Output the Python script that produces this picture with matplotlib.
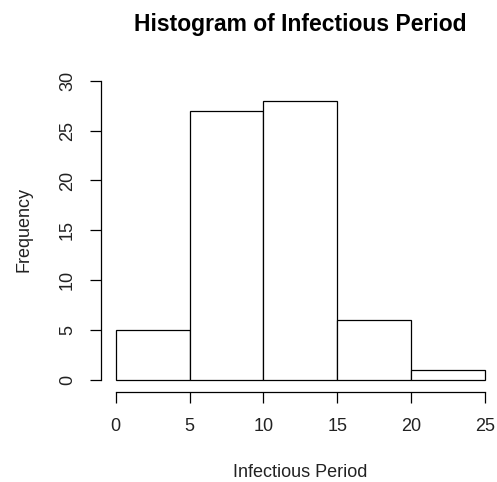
import matplotlib.pyplot as plt
import numpy as np

plt.rcParams['font.family'] = ['Liberation Sans', 'DejaVu Sans']

bin_edges = [0, 5, 10, 15, 20, 25]
counts = [5, 27, 28, 6, 1]
x_ticks = [0, 5, 10, 15, 20, 25]
y_ticks = [0, 5, 10, 15, 20, 25, 30]

W, H = 497, 482
fig = plt.figure(figsize=(W / 100, H / 100), dpi=100)
# axes box in pixels: x 115.7..485, y 80.7..380
ax = fig.add_axes([115.7 / W, 1 - 380 / H, (485 - 115.7) / W, (380 - 80.7) / H])

edges = np.array(bin_edges)
bars = ax.bar(edges[:-1], counts, width=np.diff(edges), align='edge',
              facecolor='white', edgecolor='black', linewidth=0.9)
for b in bars:
    b.set_clip_on(False)

ax.set_xlim(0, 25)
ax.set_ylim(0, 30)

for s in ['top', 'right']:
    ax.spines[s].set_visible(False)
ax.spines['left'].set_position(('outward', 10.6))
ax.spines['bottom'].set_position(('outward', 8.6))
ax.spines['left'].set_bounds(0, 30)
ax.spines['bottom'].set_bounds(0, 25)
for s in ['left', 'bottom']:
    ax.spines[s].set_linewidth(0.9)

ax.set_xticks(x_ticks)
ax.set_yticks(y_ticks)
ax.tick_params(length=8, width=0.9, labelsize=13, colors='black', labelcolor='#222222')
ax.tick_params(axis='x', pad=11)
ax.tick_params(axis='y', pad=10)
ax.set_yticklabels([str(v) for v in y_ticks], rotation=90, va='center')

cx = (115.7 + 485) / 2 / W
fig.text(cx, 1 - 31 / H, 'Histogram of Infectious Period', fontsize=16.5,
         fontweight='bold', ha='center', va='baseline')
fig.text(cx, 1 - 477 / H, 'Infectious Period', fontsize=13, color='#222222',
         ha='center', va='baseline')
fig.text(23.5 / W, 1 - 230 / H, 'Frequency', fontsize=13, color='#222222',
         rotation=90, ha='center', va='center')

fig.savefig('out.png', dpi=100)
